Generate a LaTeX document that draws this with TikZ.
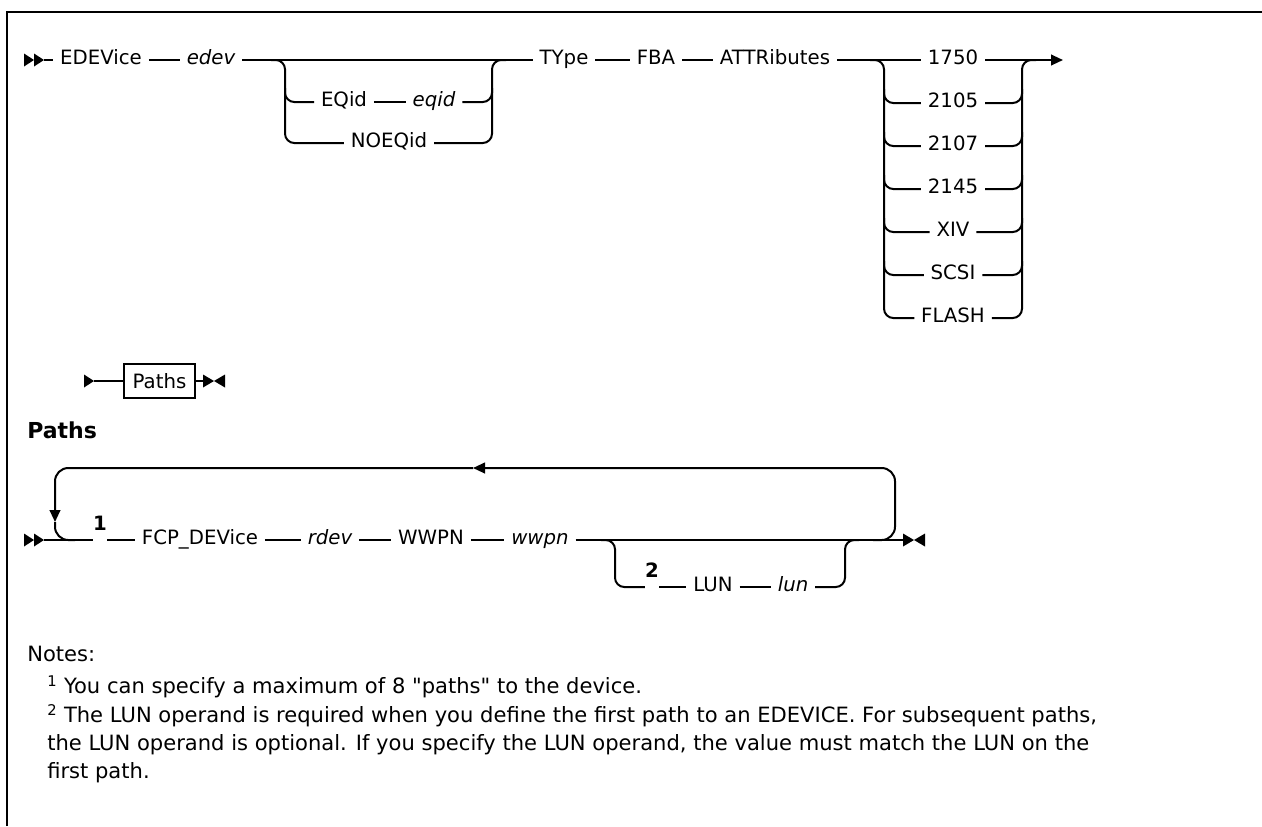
\documentclass[tikz,border=0pt]{standalone}
\usepackage{fontspec}
\setmainfont{DejaVu Sans}[Ligatures=TeXOff]
\usetikzlibrary{arrows.meta,calc}

\newcommand\railfont{\fontsize{14.8}{18}\selectfont}
\newcommand\notefont{\fontsize{15.8}{21}\selectfont}
\newcommand\headfont{\fontsize{16.5}{20}\selectfont\bfseries}

\begin{document}
\begin{tikzpicture}[x=0.75pt, y=-0.75pt,
  rail/.style={line width=1.5pt, rounded corners=7pt},
  kw/.style={font=\railfont, inner ysep=0pt, inner xsep=5pt, text height=0.73em, text depth=0pt},
  var/.style={kw, font=\railfont\itshape},
  fnum/.style={font=\railfont\bfseries, inner sep=0pt, minimum width=9pt},
  note/.style={anchor=base west, font=\notefont, inner sep=0pt},
  tip/.style={-{Triangle[length=9pt, width=8pt]}},
  pics/fwdtri/.style={code={\fill (0,-6.5) -- (10,0) -- (0,6.5) -- cycle;}},
  pics/bowtie/.style={code={\fill (0,-6.5) -- (11,0) -- (0,6.5) -- cycle;
                            \fill (22,-6.5) -- (11,0) -- (22,6.5) -- cycle;}}]

\useasboundingbox (0,0) rectangle (1262,826);

% Frame
\draw[line width=1.5pt] (7,826) -- (7,12) -- (1262,12);

% Main statement, top row
\pic at (24,60) {fwdtri};
\pic at (34,60) {fwdtri};
\coordinate (s1) at (44,60);
\node[kw] (edevice) at (101,60) {EDEVice};
\node[var] (edev) at (211,60) {edev};
\node[kw] (type) at (564,60) {TYpe};
\node[kw] (fba) at (656,60) {FBA};
\node[kw] (attr) at (775,60) {ATTRibutes};
\node[kw] (a1750) at (953,60) {1750};
\coordinate (end1) at (1063,60);

\draw[rail] (s1) -- (edevice.west);
\draw[rail] (edevice.east) -- (edev.west);
\draw[rail] (edev.east) -- (type.west);
\draw[rail] (type.east) -- (fba.west);
\draw[rail] (fba.east) -- (attr.west);
\draw[rail] (attr.east) -- (a1750.west);
\draw[rail, tip] (a1750.east) -- (end1);

% EQid / NOEQid choice
\coordinate (b1l) at (285,60);
\coordinate (b1r) at (492,60);
\node[kw] (eqidk) at (344,102) {EQid};
\node[var] (eqidv) at (434,102) {eqid};
\node[kw] (noeq) at (389,143) {NOEQid};

\draw[rail] ($(b1l)+(-14,0)$) -- (b1l) -- (b1l |- noeq) -- (noeq.west);
\draw[rail] ($(b1l |- eqidk)+(0,-14)$) -- (b1l |- eqidk) -- (eqidk.west);
\draw[rail] (eqidk.east) -- (eqidv.west);
\draw[rail] (eqidv.east) -- (b1r |- eqidv) -- ++(0,-14);
\draw[rail] (noeq.east) -- (b1r |- noeq) -- (b1r) -- ++(14,0);

% Attribute choice
\coordinate (b2l) at (884,60);
\coordinate (b2r) at (1022,60);
\node[kw] (a2105) at (953,103) {2105};
\node[kw] (a2107) at (953,146) {2107};
\node[kw] (a2145) at (953,189) {2145};
\node[kw] (axiv) at (953,232) {XIV};
\node[kw] (ascsi) at (953,275) {SCSI};
\node[kw] (aflash) at (953,318) {FLASH};

\draw[rail] ($(b2l)+(-14,0)$) -- (b2l) -- (b2l |- aflash) -- (aflash.west);
\draw[rail] ($(b2l |- a2105)+(0,-14)$) -- (b2l |- a2105) -- (a2105.west);
\draw[rail] ($(b2l |- a2107)+(0,-14)$) -- (b2l |- a2107) -- (a2107.west);
\draw[rail] ($(b2l |- a2145)+(0,-14)$) -- (b2l |- a2145) -- (a2145.west);
\draw[rail] ($(b2l |- axiv)+(0,-14)$) -- (b2l |- axiv) -- (axiv.west);
\draw[rail] ($(b2l |- ascsi)+(0,-14)$) -- (b2l |- ascsi) -- (ascsi.west);
\draw[rail] (a2105.east) -- (b2r |- a2105) -- ++(0,-14);
\draw[rail] (a2107.east) -- (b2r |- a2107) -- ++(0,-14);
\draw[rail] (a2145.east) -- (b2r |- a2145) -- ++(0,-14);
\draw[rail] (axiv.east) -- (b2r |- axiv) -- ++(0,-14);
\draw[rail] (ascsi.east) -- (b2r |- ascsi) -- ++(0,-14);
\draw[rail] (aflash.east) -- (b2r |- aflash) -- (b2r) -- ++(14,0);

% Reference to the Paths fragment
\pic at (84,381) {fwdtri};
\coordinate (s2) at (94,381);
\node[draw, line width=1.4pt, font=\railfont, minimum width=53pt, minimum height=25pt, inner sep=0pt]
  (pathsref) at (159.5,381) {Paths};
\coordinate (end2) at (203,381);
\draw[rail] (s2) -- (pathsref.west);
\draw[rail] (pathsref.east) -- (end2);
\pic at (end2) {bowtie};

% Paths fragment
\node[anchor=west, font=\headfont, inner sep=0pt] (pathshead) at (27,430) {Paths};

\pic at (24,540) {fwdtri};
\pic at (34,540) {fwdtri};
\coordinate (s3) at (44,540);
\node[fnum] (fn1) at (100,523) {1};
\node[kw] (fcp) at (200,540) {FCP\_DEVice};
\node[var] (rdev) at (330,540) {rdev};
\node[kw] (wwpnk) at (431,540) {WWPN};
\node[var] (wwpnv) at (540,540) {wwpn};
\coordinate (end3) at (903,540);

\draw[rail] (s3) -- (s3 -| fn1.west);
\draw[rail] (fn1.east |- fcp) -- (fcp.west);
\draw[rail] (fcp.east) -- (rdev.west);
\draw[rail] (rdev.east) -- (wwpnk.west);
\draw[rail] (wwpnk.east) -- (wwpnv.west);
\draw[rail] (wwpnv.east) -- (end3);
\pic at (end3) {bowtie};

% Repeat loop
\coordinate (lpr) at (895,468);
\coordinate (lpl) at (55,468);
\coordinate (la) at (473,468);
\coordinate (ld) at (55,522);
\draw[rail, rounded corners=10pt, tip] ($(lpr |- end3)+(-22,0)$) -- (lpr |- end3) -- (lpr) -- (la);
\draw[rail, rounded corners=10pt, tip] (la) -- (lpl) -- (ld);
\draw[rail, rounded corners=10pt] (ld) -- (lpl |- s3) -- ++(20,0);

% Optional LUN
\coordinate (b3l) at (615,540);
\coordinate (b3r) at (845,540);
\node[fnum] (fn2) at (652,570) {2};
\node[kw] (lunk) at (713,587) {LUN};
\node[var] (lunv) at (793,587) {lun};

\draw[rail] ($(b3l)+(-14,0)$) -- (b3l) -- (b3l |- lunk) -- (fn2.west |- lunk);
\draw[rail] (fn2.east |- lunk) -- (lunk.west);
\draw[rail] (lunk.east) -- (lunv.west);
\draw[rail] (lunv.east) -- (b3r |- lunv) -- (b3r) -- ++(14,0);

% Notes
\node[note] (notes) at (27,661) {Notes:};
\node[note] (note1) at (47,693) {\textsuperscript{1} You can specify a maximum of 8 "paths" to the device.};
\node[note] (note2a) at (47,722) {\textsuperscript{2} The LUN operand is required when you define the first path to an EDEVICE. For subsequent paths,};
\node[note] (note2b) at (47,750) {the LUN operand is optional. If you specify the LUN operand, the value must match the LUN on the};
\node[note] (note2c) at (47,778) {first path.};

\end{tikzpicture}
\end{document}
